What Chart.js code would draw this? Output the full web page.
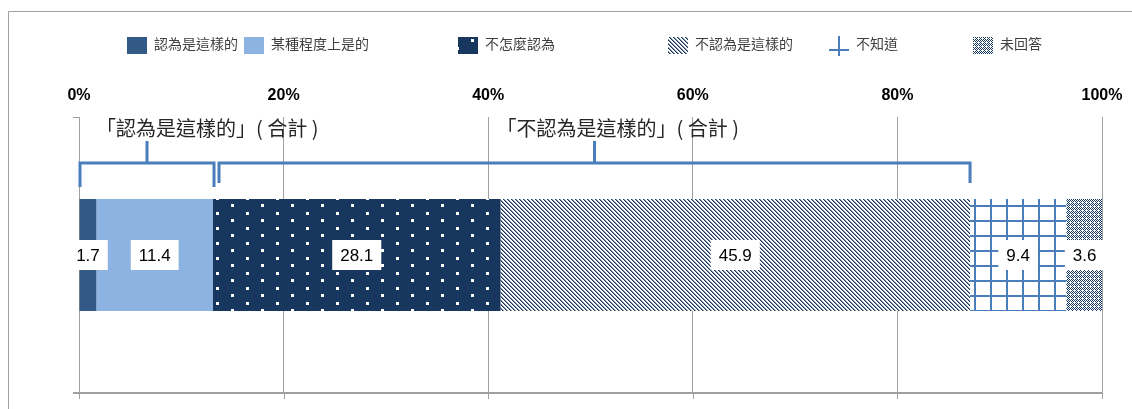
<!DOCTYPE html>
<html>
<head>
<meta charset="utf-8">
<script src="https://cdn.jsdelivr.net/npm/chart.js@4/dist/chart.umd.min.js"></script>
<style>
  body { margin: 0; background: #fff; }
  canvas { display: block; }
</style>
</head>
<body>
<canvas id="myChart" width="1132" height="409"></canvas>
<script>
// data
const categories = [''];
const seriesNames = ['認為是這樣的', '某種程度上是的', '不怎麼認為', '不認為是這樣的', '不知道', '未回答'];
const seriesValues = [1.7, 11.4, 28.1, 45.9, 9.4, 3.6];
const tickLabels = ['0%', '20%', '40%', '60%', '80%', '100%'];
const groupLabels = ['「認為是這樣的」( 合計 )', '「不認為是這樣的」( 合計 )'];
const groupMembers = [[0, 1], [2, 3]];

const NAVY = '#17375e';
const BLUE = '#4a7ebb';
const GRID = '#a0a0a0';
const CJK = '"Noto Sans CJK TC", "Noto Sans CJK SC", sans-serif';
const LAT = '"Liberation Sans", Arial, sans-serif';

function tile(w, h, draw) {
  var c = document.createElement('canvas');
  c.width = w; c.height = h;
  var g = c.getContext('2d');
  draw(g);
  return document.createElement('canvas').getContext('2d').createPattern(c, 'repeat');
}

// patterns for the segments
var dots = tile(30, 15, function (g) {
  g.fillStyle = NAVY; g.fillRect(0, 0, 30, 15);
  g.fillStyle = '#fff';
  g.fillRect(6, 2, 3, 3);
  g.fillRect(21, 9, 3, 3);
});
var hatch = tile(4, 4, function (g) {
  g.fillStyle = '#fff'; g.fillRect(0, 0, 4, 4);
  for (var i = 0; i < 4; i++) {
    g.fillStyle = NAVY;
    g.fillRect(i, i, 1, 1);
    g.fillStyle = 'rgba(23,55,94,0.55)';
    g.fillRect((i + 1) % 4, i, 1, 1);
  }
});
var grid = tile(16, 15, function (g) {
  g.fillStyle = '#fff'; g.fillRect(0, 0, 16, 15);
  g.fillStyle = BLUE;
  g.fillRect(14, 0, 2, 15);
  g.fillRect(0, 10, 16, 2);
});
var checks = tile(4, 4, function (g) {
  g.fillStyle = '#fff'; g.fillRect(0, 0, 4, 4);
  g.fillStyle = NAVY;
  g.fillRect(0, 0, 1, 1); g.fillRect(2, 0, 1, 1);
  g.fillRect(1, 1, 1, 1); g.fillRect(3, 1, 1, 1);
  g.fillRect(0, 2, 1, 1); g.fillRect(1, 3, 1, 1);
  g.fillRect(3, 3, 1, 1);
});

const fills = ['#335a87', '#8db3e2', dots, hatch, grid, checks];

var datasets = seriesNames.map(function (name, i) {
  return {
    label: name,
    data: [seriesValues[i]],
    backgroundColor: fills[i],
    borderWidth: 0,
    categoryPercentage: 1,
    barPercentage: 0.406
  };
});

// white boxed value labels, brackets, legend, bottom axis and frame
var decor = {
  id: 'decor',
  beforeDraw: function (chart) {
    var c = chart.ctx;
    c.save();
    c.fillStyle = '#fff';
    c.fillRect(0, 0, chart.width, chart.height);
    c.restore();
  },
  afterDatasetsDraw: function (chart) {
    var c = chart.ctx;
    c.save();
    c.font = '17px ' + LAT;
    c.textAlign = 'center';
    c.textBaseline = 'middle';
    chart.data.datasets.forEach(function (ds, i) {
      var el = chart.getDatasetMeta(i).data[0];
      var cx = (el.x + el.base) / 2;
      var txt = ds.data[0].toFixed(1);
      var w = c.measureText(txt).width + 16;
      c.fillStyle = '#fff';
      c.fillRect(cx - w / 2, el.y - 15, w, 30);
      c.fillStyle = '#000';
      c.fillText(txt, cx, el.y + 1);
    });
    c.restore();
  },
  afterDraw: function (chart) {
    var c = chart.ctx;
    var xs = chart.scales.x;
    var area = chart.chartArea;
    c.save();

    // frame
    c.strokeStyle = GRID;
    c.lineWidth = 1;
    c.beginPath();
    c.moveTo(8.5, chart.height);
    c.lineTo(8.5, 11.5);
    c.lineTo(chart.width, 11.5);
    c.stroke();

    // bottom axis line with ticks
    c.lineWidth = 2;
    c.beginPath();
    c.moveTo(area.left - 6, area.bottom);
    c.lineTo(area.right + 1, area.bottom);
    c.stroke();
    c.lineWidth = 1;
    c.beginPath();
    xs.ticks.forEach(function (t) {
      var px = Math.round(xs.getPixelForValue(t.value)) + 0.5;
      c.moveTo(px, area.bottom);
      c.lineTo(px, area.bottom + 6);
    });
    c.stroke();

    // brackets
    var cum = [0];
    seriesValues.forEach(function (v, i) { cum.push(cum[i] + v); });
    var yb = 163;
    c.strokeStyle = BLUE;
    c.lineWidth = 3;
    groupMembers.forEach(function (m, g) {
      var a = xs.getPixelForValue(cum[m[0]]) + (g === 0 ? 1 : 6);
      var b = xs.getPixelForValue(cum[m[m.length - 1] + 1]) + (g === 0 ? 1 : 0);
      var drop = g === 0 ? 24 : 20;
      var mid = (a + b) / 2;
      c.beginPath();
      c.moveTo(a, yb + drop);
      c.lineTo(a, yb);
      c.lineTo(b, yb);
      c.lineTo(b, yb + drop);
      c.moveTo(mid, yb);
      c.lineTo(mid, yb - 22);
      c.stroke();

      c.fillStyle = '#262626';
      c.font = '20px ' + CJK;
      c.textAlign = 'left';
      c.textBaseline = 'middle';
      c.fillText(groupLabels[g], g === 0 ? mid - 51 : mid - 98, 128);
    });

    // legend
    var lx = [127, 244, 458, 668, 829, 973];
    c.font = '14px ' + CJK;
    c.textAlign = 'left';
    c.textBaseline = 'middle';
    seriesNames.forEach(function (name, i) {
      var x = lx[i];
      if (i === 4) {
        c.strokeStyle = BLUE;
        c.lineWidth = 2;
        c.beginPath();
        c.moveTo(x, 50); c.lineTo(x + 20, 50);
        c.moveTo(x + 10, 36); c.lineTo(x + 10, 56);
        c.stroke();
      } else {
        c.fillStyle = fills[i];
        c.fillRect(x, 37, 20, 17);
      }
      c.fillStyle = '#404040';
      c.fillText(name, x + 27, 44);
    });
    c.restore();
  }
};

var ctx = document.getElementById('myChart').getContext('2d');
var chart = new Chart(ctx, {
  type: 'bar',
  data: { labels: categories, datasets: datasets },
  options: {
    indexAxis: 'y',
    responsive: false,
    animation: false,
    devicePixelRatio: 1,
    layout: { padding: { left: 0, right: 30, top: 0, bottom: 16 } },
    plugins: { legend: { display: false }, tooltip: { enabled: false } },
    scales: {
      x: {
        stacked: true,
        position: 'top',
        min: 0, max: 100,
        afterFit: function (s) {
          s.height = 117;
          s.paddingLeft = 0;
          s.paddingRight = 0;
        },
        ticks: {
          stepSize: 20,
          padding: 12,
          color: '#000',
          font: { family: LAT, size: 16, weight: 'bold' },
          callback: function (v, i) { return tickLabels[i]; }
        },
        grid: { color: GRID, drawTicks: false },
        border: { display: false }
      },
      y: {
        stacked: true,
        afterFit: function (s) { s.width = 79; },
        ticks: { display: false },
        grid: { drawOnChartArea: false, tickLength: 6, color: GRID, offset: true },
        border: { color: GRID }
      }
    }
  },
  plugins: [decor]
});
</script>
</body>
</html>
